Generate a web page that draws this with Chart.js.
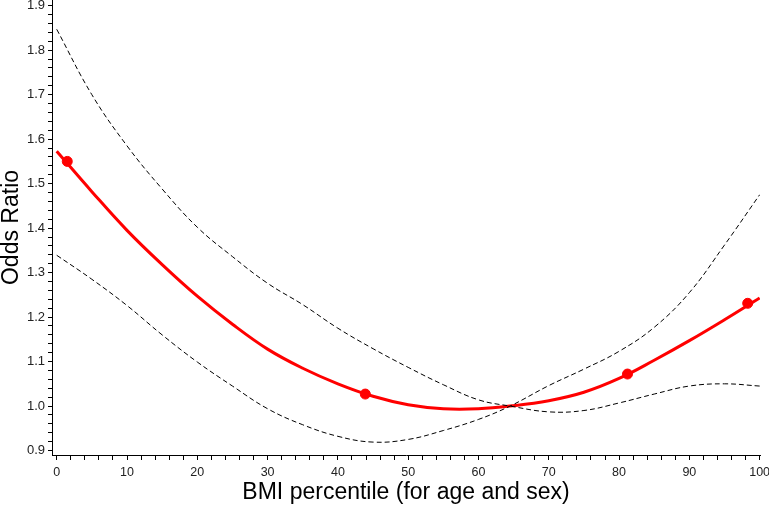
<!DOCTYPE html>
<html>
<head>
<meta charset="utf-8">
<script src="https://cdn.jsdelivr.net/npm/chart.js@4/dist/chart.umd.min.js"></script>
<style>
  html, body { margin: 0; padding: 0; background: #fff; }
  #wrap { width: 769px; height: 507px; }
</style>
</head>
<body>
<div id="wrap"><canvas id="chart"></canvas></div>
<script>
// BMI percentile positions shared by the three curves
const bmiPct = [0, 5, 10, 15, 20, 25, 30, 35, 40, 45, 50, 55, 60, 64.5, 70, 75, 80, 85, 90, 95, 100];
const oddsRatio = [1.573, 1.482, 1.395, 1.318, 1.247, 1.184, 1.128, 1.085, 1.050, 1.022, 1.003, 0.994, 0.994, 1.000, 1.012, 1.031, 1.062, 1.103, 1.147, 1.194, 1.243];
const ciA = [1.847, 1.700, 1.585, 1.488, 1.402, 1.336, 1.276, 1.228, 1.175, 1.129, 1.087, 1.048, 1.014, 1.000, 0.987, 0.990, 1.007, 1.027, 1.045, 1.050, 1.045];
const ciB = [1.339, 1.285, 1.226, 1.160, 1.099, 1.045, 0.994, 0.958, 0.932, 0.919, 0.925, 0.945, 0.970, 1.000, 1.046, 1.083, 1.123, 1.177, 1.255, 1.362, 1.475];
// knot markers on the fitted curve
const knotPct = [1.5, 43.9, 81.2, 98.3];
const knotOR = [1.550, 1.027, 1.072, 1.231];
// axis ticks
const xTickLabels = [0, 10, 20, 30, 40, 50, 60, 70, 80, 90, 100];
const yTickLabels = [0.9, 1.0, 1.1, 1.2, 1.3, 1.4, 1.5, 1.6, 1.7, 1.8, 1.9];
const xMinorStep = 2;
const yMinorStep = 0.02;

const pts = (xs, ys) => xs.map((x, i) => ({ x: x, y: ys[i] }));

function minorTicks(first, last, step) {
  const out = [];
  const n = Math.round((last - first) / step);
  for (let i = 0; i <= n; i++) out.push({ value: +(first + i * step).toFixed(4) });
  return out;
}
function isMajor(v, list) {
  return list.some(m => Math.abs(m - v) < 1e-6);
}

const dashed = {
  borderColor: "#000",
  borderWidth: 1,
  borderDash: [5, 3],
  pointRadius: 0,
  fill: false,
  tension: 0.4
};

new Chart(document.getElementById("chart"), {
  type: "line",
  data: {
    datasets: [
      Object.assign({ label: "upper", data: pts(bmiPct, ciA) }, dashed),
      Object.assign({ label: "lower", data: pts(bmiPct, ciB) }, dashed),
      {
        label: "OR",
        data: pts(bmiPct, oddsRatio),
        borderColor: "#ff0000",
        borderWidth: 3,
        pointRadius: 0,
        tension: 0.4
      },
      {
        label: "knots",
        data: pts(knotPct, knotOR),
        showLine: false,
        pointRadius: 5,
        pointBackgroundColor: "#ff0000",
        pointBorderColor: "#ff0000"
      }
    ]
  },
  options: {
    responsive: true,
    maintainAspectRatio: false,
    animation: false,
    layout: { padding: 0, autoPadding: false },
    plugins: { legend: { display: false }, tooltip: { enabled: false } },
    scales: {
      x: {
        type: "linear",
        min: -0.67,
        max: 100.05,
        border: { display: true, color: "#000", width: 1 },
        grid: { drawOnChartArea: false, drawTicks: true, tickLength: 5, color: "#000" },
        afterBuildTicks: s => { s.ticks = minorTicks(0, 100, xMinorStep); },
        afterFit: s => { s.height = 52; s.paddingLeft = 0; s.paddingRight = 9; },
        ticks: {
          autoSkip: false,
          maxRotation: 0,
          padding: 5,
          color: "#222",
          font: { family: "Liberation Sans, Arial, sans-serif", size: 12.5 },
          callback: v => isMajor(v, xTickLabels) ? String(Math.round(v)) : ""
        },
        title: {
          display: true,
          text: "BMI percentile (for age and sex)",
          color: "#000",
          padding: { top: 0, bottom: 3 },
          font: { family: "Liberation Sans, Arial, sans-serif", size: 23, lineHeight: 1 }
        }
      },
      y: {
        type: "linear",
        min: 0.89,
        max: 1.9128,
        border: { display: true, color: "#000", width: 1 },
        grid: { drawOnChartArea: false, drawTicks: true, tickLength: 4, color: "#000" },
        afterBuildTicks: s => { s.ticks = minorTicks(0.9, 1.9, yMinorStep); },
        afterFit: s => { s.width = 52; s.paddingTop = 0; s.paddingBottom = 0; },
        ticks: {
          autoSkip: false,
          padding: 3,
          color: "#222",
          font: { family: "Liberation Sans, Arial, sans-serif", size: 13 },
          callback: v => isMajor(v, yTickLabels) ? v.toFixed(1) : ""
        },
        title: {
          display: true,
          text: "Odds Ratio",
          color: "#000",
          padding: { top: 0, bottom: 0 },
          font: { family: "Liberation Sans, Arial, sans-serif", size: 23, lineHeight: 1 }
        }
      }
    }
  }
});
</script>
</body>
</html>
